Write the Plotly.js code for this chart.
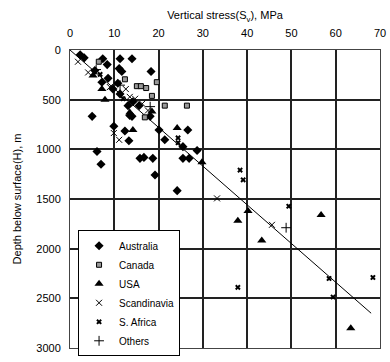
<!DOCTYPE html>
<html><head><meta charset="utf-8">
<script src="https://cdn.plot.ly/plotly-3.0.1.min.js"></script>
<style>html,body{margin:0;padding:0;background:#fff;}#chart{width:390px;height:362px;}</style>
</head><body><div id="chart"></div>
<script>
// Australia
const ausS = [2.3,3.2,7.4,11.3,14.0,8.4,18.3,11.1,8.6,7.2,10.8,11.3,14.2,15.6,13.1,13.5,5.0,9.9,12.4,13.3,20.1,21.4,26.6,25.5,28.7,6.1,7.0,15.8,16.7,18.7,25.5,26.9,19.2,24.2,9.7,14.0,18.1,5.6,11.7];
const ausH = [49,79,88,88,88,147,216,187,285,324,334,442,521,560,560,659,668,767,816,914,806,904,806,973,1012,1022,1150,1091,1081,1091,1091,1091,1258,1416,393,668,668,206,216];
// Canada
const canS = [6.5,15.1,16.0,17.2,19.6,18.5,21.4,26.4,16.9,12.4];
const canH = [118,364,364,383,324,462,560,560,678,295];
// USA
const usaS = [5.2,7.2,7.9,13.5,18.5,24.2,14.2,29.8,37.9,40.2,56.7,43.3,63.4];
const usaH = [256,393,501,629,619,786,806,1130,1720,1622,1661,1917,2802];
// Scandinavia
const scaS = [4.1,12.6,13.5,14.7,16.3,17.6,9.9,11.1,33.2,45.6,1.8,9.0];
const scaH = [226,393,472,491,541,609,836,904,1494,1760,118,373];
// S. Africa
const safS = [38.4,39.1,49.4,37.9,58.5,68.4,59.4,24.4,24.4,12.0,6.8];
const safH = [1209,1307,1573,2389,2300,2290,2487,885,934,491,246];
// Others
const othS = [48.8,5.9,11.3,18.1];
const othH = [1789,197,354,570];
// Trend line
const lineS = [0,68];
const lineH = [0,2650];

const traces = [
  {x:lineS,y:lineH,mode:'lines',line:{color:'#000',width:1},showlegend:false,hoverinfo:'skip'},
  {x:ausS,y:ausH,name:'Australia',mode:'markers',marker:{symbol:'diamond',size:7,color:'#000'}},
  {x:canS,y:canH,name:'Canada',mode:'markers',marker:{symbol:'square',size:5,color:'#999',line:{color:'#000',width:1}}},
  {x:usaS,y:usaH,name:'USA',mode:'markers',marker:{symbol:'triangle-up',size:8,color:'#000'}},
  {x:scaS,y:scaH,name:'Scandinavia',mode:'markers',marker:{symbol:'x-thin-open',size:6,color:'#000',line:{color:'#000',width:1}}},
  {x:safS,y:safH,name:'S. Africa',mode:'markers',marker:{symbol:'x',size:5,color:'#000'}},
  {x:othS,y:othH,name:'Others',mode:'markers',marker:{symbol:'cross-thin-open',size:7,color:'#000',line:{color:'#000',width:1}}}
];

const layout = {
  width:390,height:362,
  margin:{l:70,r:10,t:50,b:6},
  paper_bgcolor:'#fff',plot_bgcolor:'#fff',
  font:{family:'Liberation Sans, Arial, sans-serif',size:11,color:'#000'},
  xaxis:{side:'top',range:[0,70],dtick:10,tick0:0,showgrid:true,gridcolor:'#222',gridwidth:2,
    zeroline:false,showline:true,mirror:true,linecolor:'#444',linewidth:1,
    ticks:'outside',ticklen:8,tickcolor:'rgba(0,0,0,0)',
    title:{text:'Vertical stress(S<sub>v</sub>), MPa',font:{size:11},standoff:4},fixedrange:true},
  yaxis:{range:[3000,0],dtick:500,tick0:0,showgrid:true,gridcolor:'#222',gridwidth:2,
    zeroline:false,showline:true,mirror:true,linecolor:'#444',linewidth:1,
    ticks:'outside',ticklen:6,tickcolor:'rgba(0,0,0,0)',
    title:{text:'Depth below surface(H), m',font:{size:11},standoff:12},fixedrange:true},
  legend:{x:0.026,y:0.395,xanchor:'left',yanchor:'top',bgcolor:'#fff',bordercolor:'#000',borderwidth:1,
    font:{size:10},itemwidth:30,tracegroupgap:0},
  showlegend:true
};
Plotly.newPlot('chart',traces,layout,{displayModeBar:false,staticPlot:true});
</script></body></html>
